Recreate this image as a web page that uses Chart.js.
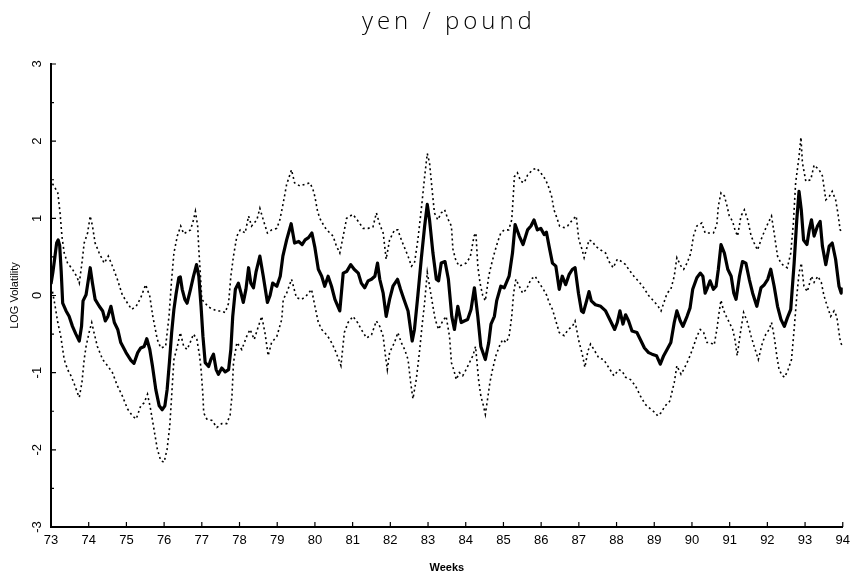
<!DOCTYPE html>
<html>
<head>
<meta charset="utf-8">
<script src="https://cdn.jsdelivr.net/npm/chart.js@4.4.1/dist/chart.umd.min.js"></script>
<style>
  html, body { margin: 0; padding: 0; background: #fff; }
</style>
</head>
<body>
<canvas id="volChart" width="856" height="580"></canvas>
<script>
// years (19xx) and log volatility
const mainYears = [73.00,73.05,73.09,73.15,73.19,73.23,73.27,73.31,73.40,73.48,73.57,73.66,73.75,73.81,73.85,73.93,73.99,74.04,74.10,74.17,74.28,74.37,74.44,74.51,74.59,74.68,74.77,74.85,74.99,75.12,75.20,75.30,75.38,75.47,75.54,75.62,75.69,75.78,75.87,75.95,76.02,76.08,76.14,76.20,76.26,76.32,76.39,76.43,76.48,76.55,76.61,76.70,76.78,76.86,76.92,76.98,77.03,77.09,77.18,77.24,77.31,77.38,77.44,77.53,77.62,77.71,77.77,77.82,77.89,77.97,78.04,78.10,78.17,78.24,78.30,78.37,78.44,78.54,78.63,78.74,78.81,78.88,78.99,79.08,79.15,79.25,79.37,79.46,79.57,79.66,79.74,79.83,79.92,80.00,80.09,80.18,80.26,80.35,80.44,80.53,80.66,80.75,80.84,80.95,81.04,81.15,81.23,81.32,81.41,81.50,81.59,81.66,81.72,81.81,81.89,81.98,82.07,82.19,82.27,82.36,82.47,82.58,82.64,82.73,82.82,82.91,82.98,83.04,83.13,83.22,83.28,83.35,83.45,83.54,83.63,83.70,83.79,83.88,83.96,84.05,84.14,84.23,84.32,84.40,84.52,84.61,84.67,84.76,84.82,84.93,85.02,85.15,85.24,85.31,85.42,85.52,85.64,85.73,85.81,85.90,85.99,86.08,86.14,86.21,86.30,86.39,86.48,86.56,86.65,86.74,86.83,86.90,86.99,87.07,87.12,87.20,87.27,87.33,87.44,87.58,87.71,87.84,87.95,88.02,88.09,88.17,88.24,88.32,88.41,88.54,88.65,88.74,88.85,88.94,89.06,89.16,89.25,89.34,89.44,89.53,89.60,89.69,89.76,89.87,89.95,90.02,90.13,90.22,90.29,90.35,90.41,90.48,90.57,90.64,90.70,90.77,90.86,90.95,91.04,91.11,91.17,91.26,91.34,91.43,91.52,91.61,91.72,91.83,91.92,92.01,92.09,92.18,92.27,92.36,92.45,92.53,92.62,92.71,92.78,92.84,92.90,92.96,93.05,93.11,93.17,93.24,93.33,93.40,93.46,93.55,93.64,93.72,93.81,93.90,93.96,94.00];
const mainValues = [0.15,0.30,0.45,0.68,0.72,0.65,0.32,-0.10,-0.20,-0.27,-0.40,-0.50,-0.59,-0.40,-0.07,0.01,0.20,0.36,0.16,-0.05,-0.14,-0.20,-0.33,-0.27,-0.14,-0.35,-0.44,-0.61,-0.74,-0.84,-0.88,-0.74,-0.68,-0.66,-0.56,-0.70,-0.91,-1.22,-1.43,-1.48,-1.43,-1.22,-0.87,-0.48,-0.18,0.03,0.23,0.24,0.08,-0.05,-0.10,0.08,0.25,0.40,0.25,-0.14,-0.53,-0.87,-0.92,-0.83,-0.76,-0.96,-1.02,-0.94,-0.99,-0.96,-0.70,-0.27,0.08,0.16,0.03,-0.09,0.08,0.36,0.16,0.10,0.31,0.51,0.25,-0.09,0.00,0.16,0.12,0.25,0.51,0.72,0.93,0.68,0.70,0.66,0.72,0.75,0.81,0.62,0.34,0.25,0.12,0.25,0.12,-0.05,-0.20,0.29,0.31,0.40,0.34,0.29,0.16,0.10,0.19,0.21,0.25,0.42,0.21,0.03,-0.27,-0.05,0.12,0.21,0.08,-0.05,-0.20,-0.59,-0.44,0.00,0.47,0.90,1.18,0.98,0.55,0.21,0.19,0.42,0.44,0.21,-0.27,-0.44,-0.14,-0.35,-0.33,-0.31,-0.18,0.10,-0.27,-0.66,-0.83,-0.61,-0.37,-0.27,-0.07,0.12,0.10,0.25,0.55,0.92,0.77,0.66,0.85,0.90,0.98,0.85,0.87,0.79,0.82,0.64,0.42,0.38,0.08,0.25,0.14,0.27,0.34,0.36,0.03,-0.20,-0.22,-0.08,0.05,-0.07,-0.12,-0.14,-0.20,-0.33,-0.44,-0.35,-0.20,-0.37,-0.25,-0.33,-0.46,-0.48,-0.59,-0.68,-0.74,-0.76,-0.78,-0.89,-0.78,-0.70,-0.61,-0.35,-0.20,-0.33,-0.40,-0.27,-0.16,0.08,0.23,0.29,0.25,0.03,0.10,0.19,0.08,0.12,0.34,0.66,0.55,0.34,0.25,0.03,-0.05,0.25,0.44,0.42,0.21,0.03,-0.14,0.10,0.14,0.21,0.34,0.12,-0.14,-0.31,-0.40,-0.29,-0.18,0.42,0.98,1.35,1.11,0.72,0.66,0.85,0.98,0.77,0.90,0.96,0.64,0.40,0.64,0.68,0.47,0.12,0.03,0.10];

const upperYears = [73.04,73.10,73.18,73.24,73.29,73.35,73.44,73.57,73.68,73.75,73.82,73.88,73.97,74.04,74.10,74.17,74.28,74.41,74.52,74.63,74.76,74.89,75.03,75.14,75.26,75.38,75.51,75.62,75.70,75.82,75.91,76.04,76.13,76.20,76.26,76.35,76.44,76.52,76.70,76.78,76.83,76.89,76.92,76.96,77.00,77.09,77.18,77.31,77.40,77.52,77.62,77.71,77.77,77.84,77.93,78.02,78.15,78.24,78.32,78.46,78.54,78.63,78.74,78.85,78.99,79.07,79.16,79.25,79.38,79.46,79.60,79.73,79.87,79.95,80.00,80.07,80.13,80.22,80.31,80.40,80.48,80.57,80.66,80.75,80.84,80.93,81.01,81.15,81.28,81.41,81.54,81.63,81.72,81.81,81.89,81.98,82.11,82.20,82.27,82.36,82.47,82.56,82.64,82.73,82.82,82.91,82.98,83.04,83.10,83.17,83.26,83.35,83.44,83.52,83.62,83.66,83.74,83.83,83.92,84.01,84.12,84.22,84.27,84.32,84.38,84.45,84.52,84.61,84.67,84.76,84.85,84.93,85.02,85.14,85.22,85.26,85.29,85.37,85.46,85.55,85.64,85.77,85.88,85.99,86.12,86.21,86.28,86.34,86.40,86.49,86.61,86.70,86.83,86.93,87.00,87.09,87.14,87.27,87.36,87.44,87.58,87.71,87.80,87.91,88.02,88.10,88.24,88.32,88.46,88.59,88.72,88.85,88.98,89.09,89.18,89.25,89.34,89.44,89.53,89.60,89.71,89.78,89.87,89.97,90.04,90.13,90.26,90.35,90.44,90.57,90.66,90.70,90.77,90.86,90.93,90.99,91.08,91.14,91.21,91.30,91.39,91.48,91.57,91.65,91.74,91.83,91.92,92.02,92.11,92.18,92.27,92.36,92.45,92.53,92.62,92.69,92.75,92.84,92.89,92.93,93.02,93.15,93.24,93.37,93.46,93.55,93.64,93.72,93.81,93.87,93.93,94.00];
const upperValues = [1.45,1.40,1.33,1.07,0.77,0.55,0.42,0.34,0.25,0.16,0.42,0.68,0.81,1.03,0.90,0.68,0.55,0.42,0.51,0.38,0.21,0.01,-0.10,-0.18,-0.14,-0.03,0.14,-0.01,-0.27,-0.57,-0.68,-0.66,-0.27,0.21,0.55,0.77,0.90,0.80,0.85,0.98,1.09,0.90,0.60,0.29,-0.05,-0.10,-0.15,-0.18,-0.20,-0.20,-0.22,-0.10,0.25,0.51,0.77,0.85,0.81,1.03,0.90,0.98,1.13,0.98,0.81,0.85,0.87,0.98,1.20,1.44,1.63,1.46,1.42,1.44,1.46,1.37,1.28,1.09,1.00,0.92,0.85,0.81,0.77,0.64,0.55,0.77,1.00,1.03,1.05,0.96,0.87,0.87,0.89,1.07,0.92,0.81,0.47,0.72,0.85,0.85,0.75,0.64,0.51,0.38,0.42,0.72,1.11,1.54,1.84,1.72,1.41,1.07,0.98,1.07,1.11,1.00,0.90,0.60,0.45,0.38,0.40,0.42,0.50,0.77,0.81,0.38,0.16,0.00,-0.07,0.25,0.38,0.55,0.70,0.81,0.85,0.85,0.98,1.28,1.54,1.59,1.48,1.46,1.56,1.63,1.65,1.59,1.50,1.39,1.28,1.11,1.03,0.90,0.88,0.90,0.98,1.03,0.72,0.59,0.49,0.72,0.70,0.64,0.59,0.55,0.44,0.36,0.47,0.45,0.40,0.34,0.25,0.18,0.10,0.00,-0.07,-0.13,-0.20,-0.10,0.03,0.08,0.25,0.49,0.38,0.34,0.42,0.55,0.77,0.90,0.94,0.81,0.81,0.81,0.92,1.16,1.33,1.29,1.16,1.03,0.96,0.85,0.77,1.03,1.11,0.98,0.77,0.68,0.59,0.72,0.83,0.94,1.03,0.81,0.51,0.42,0.38,0.36,0.55,0.94,1.46,1.80,2.05,1.72,1.48,1.50,1.69,1.63,1.55,1.24,1.28,1.35,1.24,1.07,0.85,0.82];

const lowerYears = [73.04,73.11,73.18,73.26,73.35,73.44,73.53,73.62,73.70,73.75,73.82,73.88,73.93,74.01,74.08,74.14,74.23,74.37,74.50,74.63,74.76,74.89,75.03,75.16,75.26,75.38,75.47,75.56,75.64,75.73,75.82,75.91,76.00,76.08,76.15,76.20,76.26,76.35,76.43,76.52,76.61,76.69,76.78,76.87,76.94,76.98,77.00,77.03,77.05,77.13,77.27,77.40,77.53,77.66,77.75,77.80,77.84,77.93,78.06,78.19,78.28,78.39,78.50,78.59,78.68,78.76,78.85,78.99,79.12,79.16,79.25,79.38,79.51,79.65,79.78,79.91,80.00,80.09,80.18,80.26,80.40,80.53,80.63,80.69,80.78,80.88,81.01,81.13,81.23,81.37,81.50,81.63,81.72,81.81,81.87,81.92,81.98,82.11,82.20,82.29,82.38,82.47,82.54,82.60,82.69,82.78,82.84,82.91,82.98,83.04,83.13,83.19,83.28,83.39,83.48,83.57,83.62,83.68,83.75,83.83,83.92,84.01,84.10,84.19,84.26,84.30,84.34,84.40,84.47,84.52,84.58,84.64,84.71,84.80,84.89,84.98,85.07,85.15,85.22,85.27,85.33,85.42,85.51,85.61,85.73,85.84,85.95,86.06,86.15,86.21,86.30,86.39,86.48,86.61,86.72,86.83,86.90,86.99,87.09,87.16,87.24,87.31,87.40,87.53,87.66,87.80,87.93,88.06,88.15,88.24,88.37,88.50,88.63,88.76,88.90,89.03,89.09,89.18,89.29,89.41,89.47,89.53,89.60,89.71,89.78,89.87,89.95,90.04,90.13,90.22,90.31,90.40,90.48,90.59,90.66,90.72,90.77,90.83,90.91,90.99,91.08,91.14,91.20,91.28,91.37,91.46,91.57,91.65,91.76,91.87,91.96,92.05,92.11,92.18,92.25,92.31,92.40,92.46,92.55,92.64,92.71,92.78,92.84,92.90,92.97,93.06,93.17,93.24,93.34,93.43,93.50,93.59,93.68,93.77,93.84,93.90,93.94,94.00];
const lowerValues = [0.05,-0.14,-0.35,-0.53,-0.83,-0.96,-1.04,-1.15,-1.26,-1.32,-1.13,-0.83,-0.66,-0.48,-0.35,-0.48,-0.66,-0.83,-0.91,-1.00,-1.17,-1.30,-1.47,-1.56,-1.60,-1.43,-1.39,-1.28,-1.47,-1.73,-1.99,-2.14,-2.16,-1.99,-1.69,-1.30,-0.83,-0.66,-0.48,-0.66,-0.70,-0.61,-0.50,-0.57,-0.78,-0.96,-1.09,-1.30,-1.52,-1.60,-1.62,-1.71,-1.66,-1.66,-1.55,-1.30,-0.87,-0.61,-0.70,-0.53,-0.44,-0.57,-0.40,-0.27,-0.50,-0.78,-0.61,-0.53,-0.31,-0.05,0.03,0.21,-0.03,-0.05,0.00,0.08,-0.14,-0.35,-0.44,-0.48,-0.57,-0.70,-0.83,-0.91,-0.48,-0.35,-0.27,-0.35,-0.44,-0.55,-0.51,-0.33,-0.40,-0.53,-0.78,-0.96,-0.74,-0.61,-0.48,-0.61,-0.70,-0.83,-1.13,-1.34,-1.08,-0.70,-0.40,-0.09,0.30,0.12,-0.14,-0.31,-0.44,-0.33,-0.27,-0.53,-0.87,-0.96,-1.09,-1.00,-1.04,-0.96,-0.87,-0.78,-0.66,-0.87,-1.09,-1.30,-1.43,-1.54,-1.34,-1.13,-0.96,-0.78,-0.66,-0.57,-0.61,-0.53,-0.27,0.03,0.21,0.12,0.03,0.08,0.21,0.25,0.16,0.08,0.00,-0.09,-0.18,-0.33,-0.48,-0.52,-0.44,-0.40,-0.33,-0.57,-0.76,-0.93,-0.72,-0.63,-0.70,-0.81,-0.83,-0.94,-1.04,-0.96,-0.98,-1.06,-1.09,-1.17,-1.30,-1.41,-1.47,-1.52,-1.56,-1.52,-1.43,-1.37,-1.25,-1.13,-0.91,-1.02,-0.96,-0.87,-0.78,-0.66,-0.53,-0.44,-0.48,-0.61,-0.61,-0.64,-0.44,-0.22,-0.06,-0.18,-0.27,-0.35,-0.44,-0.57,-0.78,-0.50,-0.22,-0.33,-0.53,-0.66,-0.83,-0.61,-0.50,-0.44,-0.35,-0.53,-0.78,-0.96,-1.04,-1.06,-0.96,-0.83,-0.44,-0.01,0.29,0.42,0.12,0.05,0.25,0.17,0.25,0.17,0.00,-0.14,-0.27,-0.20,-0.27,-0.48,-0.61,-0.66];

const yearMin = 73, yearMax = 94;
const volMin = -3, volMax = 3;

const toPoints = (xs, ys) => xs.map((x, i) => ({ x: x, y: ys[i] }));

const tickFont = { family: "'Liberation Sans Narrow', 'Liberation Sans', sans-serif", size: 13 };

// inward tick marks, like the original plot
const innerTicks = {
  id: "innerTicks",
  afterDraw(chart) {
    const { ctx, chartArea, scales } = chart;
    ctx.save();
    ctx.strokeStyle = "#000";
    ctx.lineWidth = 1.2;
    ctx.beginPath();
    scales.x.ticks.forEach((t) => {
      const px = scales.x.getPixelForValue(t.value);
      ctx.moveTo(px, chartArea.bottom);
      ctx.lineTo(px, chartArea.bottom - 5);
    });
    for (let v = volMin; v <= volMax; v += 0.5) {
      const py = scales.y.getPixelForValue(v);
      ctx.moveTo(chartArea.left, py);
      ctx.lineTo(chartArea.left + (Number.isInteger(v) ? 5 : 3), py);
    }
    ctx.stroke();
    ctx.restore();
  },
};

// title centred over the plot area
const plotTitle = {
  id: "plotTitle",
  afterDraw(chart, args, opts) {
    const { ctx, chartArea } = chart;
    ctx.save();
    ctx.font = opts.font;
    ctx.fillStyle = "#000";
    ctx.textAlign = "center";
    ctx.textBaseline = "middle";
    if ("letterSpacing" in ctx) ctx.letterSpacing = "4px";
    ctx.fillText(opts.text, (chartArea.left + chartArea.right) / 2 + 2, opts.y);
    ctx.restore();
  },
};

const config = {
  type: "line",
  data: {
    datasets: [
      {
        label: "upper",
        data: toPoints(upperYears, upperValues),
        borderColor: "#000",
        borderWidth: 1.6,
        borderDash: [2, 3],
        fill: false,
      },
      {
        label: "lower",
        data: toPoints(lowerYears, lowerValues),
        borderColor: "#000",
        borderWidth: 1.6,
        borderDash: [2, 3],
        fill: false,
      },
      {
        label: "LOG Volatility",
        data: toPoints(mainYears, mainValues),
        borderColor: "#000",
        borderWidth: 3.2,
        borderJoinStyle: "round",
        fill: false,
      },
    ],
  },
  options: {
    responsive: false,
    animation: false,
    layout: { padding: { top: 64, right: 8, left: 0, bottom: 0 } },
    elements: { point: { radius: 0 }, line: { tension: 0 } },
    plugins: {
      legend: { display: false },
      tooltip: { enabled: false },
      plotTitle: { text: "yen / pound", font: "300 24px 'Open Sans', 'Liberation Sans', sans-serif", y: 22 },
    },
    scales: {
      x: {
        type: "linear",
        min: yearMin,
        max: yearMax,
        grid: { display: false, drawTicks: false },
        border: { display: true, color: "#000", width: 2 },
        ticks: { stepSize: 1, autoSkip: false, maxRotation: 0, padding: 6, color: "#000", font: tickFont },
        title: {
          display: true,
          text: "Weeks",
          color: "#000",
          font: { family: "'Liberation Sans', sans-serif", size: 11, weight: "bold" },
          padding: { top: 0, bottom: 5 },
        },
        afterFit: (scale) => { scale.height = 53; },
      },
      y: {
        min: volMin,
        max: volMax,
        grid: { display: false, drawTicks: false },
        border: { display: true, color: "#000", width: 2 },
        ticks: { stepSize: 1, minRotation: 90, maxRotation: 90, crossAlign: "center", padding: 8, color: "#000", font: tickFont },
        title: {
          display: true,
          text: "LOG Volatility",
          color: "#000",
          font: { family: "'Liberation Sans', sans-serif", size: 11 },
          padding: { top: 8, bottom: 0 },
        },
        afterFit: (scale) => { scale.width = 51; },
      },
    },
  },
  plugins: [innerTicks, plotTitle],
};

const ctx = document.getElementById("volChart").getContext("2d");
const volChart = new Chart(ctx, config);
</script>
</body>
</html>
